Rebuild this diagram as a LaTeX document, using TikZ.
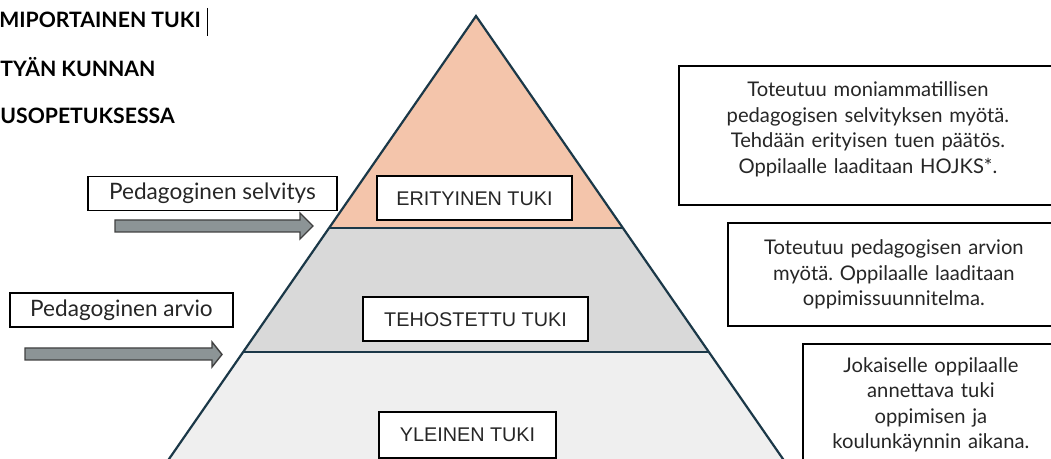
\documentclass[tikz,border=0pt]{standalone}
\usepackage{fontspec}
\setmainfont{Lato}
\newfontfamily\tierfont{Liberation Sans}
\frenchspacing

\definecolor{peach}{RGB}{244,197,171}
\definecolor{midgray}{RGB}{217,217,217}
\definecolor{palegray}{RGB}{239,239,239}
\definecolor{edgeblue}{RGB}{27,56,72}
\definecolor{arrowgray}{RGB}{140,148,150}

\begin{document}
\begin{tikzpicture}[x=0.5pt,y=-0.5pt,
  tierbox/.style={draw,fill=white,line width=1pt,minimum height=22pt,font=\tierfont\fontsize{9.9}{11}\selectfont,text=black!85},
  notebox/.style={draw,fill=white,line width=0.9pt,anchor=north west,align=center,inner xsep=0pt,font=\fontsize{10.1}{12.75}\selectfont,text=black!85},
  tagbox/.style={draw,fill=white,line width=0.9pt,font=\fontsize{11.3}{13}\selectfont,text=black!85},
  heading/.style={anchor=base west,inner sep=0pt,font=\bfseries\fontsize{10.6}{12}\selectfont},
  band/.style={draw=edgeblue,line width=0.8pt},
  fatarrow/.style={draw=black!75,fill=arrowgray,line width=0.7pt}]

\useasboundingbox (0,0) rectangle (1051,459);

\coordinate (apex) at (476,16);
\coordinate (l1) at (329,228);
\coordinate (r1) at (623,228);
\coordinate (l2) at (243,352);
\coordinate (r2) at (709,352);
\coordinate (l3) at (160,472);
\coordinate (r3) at (792,472);

\fill[peach] (apex) -- (l1) -- (r1) -- cycle;
\fill[midgray] (l1) -- (l2) -- (r2) -- (r1) -- cycle;
\fill[palegray] (l2) -- (l3) -- (r3) -- (r2) -- cycle;
\draw[band] (l1) -- (r1) (l2) -- (r2);
\draw[edgeblue,line width=1.1pt] (l3) -- (apex) -- (r3);

\node[tierbox,minimum width=97.5pt](eri) at (474.5,198.5){ERITYINEN TUKI};
\node[tierbox,minimum width=112.5pt](teh) at (475.5,319.5){TEHOSTETTU TUKI};
\node[tierbox,minimum width=88.5pt,minimum height=23pt](yle) at (467.5,435){YLEINEN TUKI};

\node[notebox,text width=189pt,minimum height=69.5pt](selnote) at (678,65){Toteutuu moniammatillisen\\pedagogisen selvityksen myötä.\\Tehdään erityisen tuen päätös.\\Oppilaalle laaditaan HOJKS*.\\[-4.75pt]\mbox{}};
\node[notebox,text width=166pt,minimum height=51.5pt](arvnote) at (727,222){Toteutuu pedagogisen arvion\\myötä. Oppilaalle laaditaan\\oppimissuunnitelma.};
\node[notebox,text width=128pt,minimum height=61pt](yleinote) at (802,343){Jokaiselle oppilaalle\\annettava tuki\\oppimisen ja\\koulunkäynnin aikana.};

\node[tagbox,minimum width=124.5pt,minimum height=15.5pt](selv) at (212.5,193.5){Pedagoginen selvitys};
\node[tagbox,minimum width=111.5pt,minimum height=17pt](arvio) at (121.5,310){Pedagoginen arvio};

\draw[fatarrow] (115,220) -- (300,220) -- (300,213) -- (313,226) -- (300,239) -- (300,232) -- (115,232) -- cycle;
\draw[fatarrow] (25,348) -- (212,348) -- (212,342) -- (222,354.5) -- (212,367) -- (212,360) -- (25,360) -- cycle;

\node[heading](h1) at (-1,28){MIPORTAINEN TUKI};
\node[heading](h2) at (0,77){TYÄN KUNNAN};
\node[heading](h3) at (0,124){USOPETUKSESSA};
\draw[line width=0.5pt] (207,8) -- (207,36);

\end{tikzpicture}
\end{document}
